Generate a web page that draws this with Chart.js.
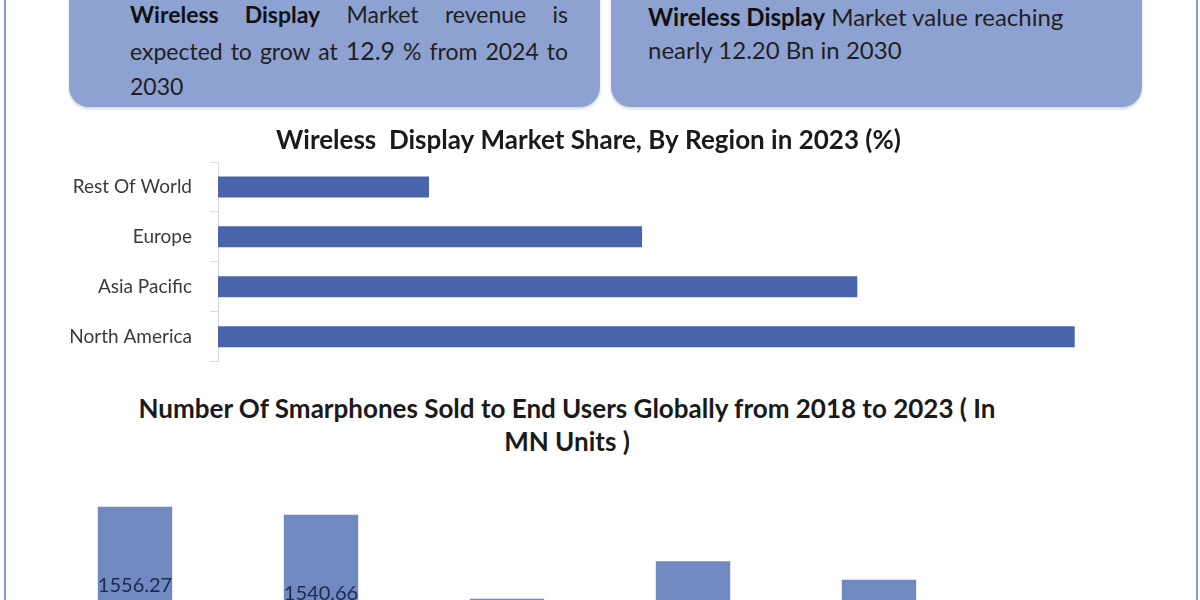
<!DOCTYPE html>
<html>
<head>
<meta charset="utf-8">
<script src="https://cdn.jsdelivr.net/npm/chart.js@4.4.1/dist/chart.umd.min.js"></script>
<style>
  html, body { margin: 0; padding: 0; width: 1200px; height: 600px; overflow: hidden; background: #fff; }
  body { position: relative; font-family: Lato, "Open Sans", sans-serif; color: #222; }
  .edge { position: absolute; top: 0; width: 2px; height: 600px; background: #8d9dc9; }
  .box { position: absolute; top: -40px; height: 147px; background: #8ea2d2; border-radius: 20px;
         box-shadow: 0 2px 3px rgba(90,100,130,0.25); }
  .txt { position: absolute; font-size: 24px; color: #1f1f1f; white-space: nowrap; }
  .txt b { color: #111; }
  .just { width: 438px; text-align: justify; text-align-last: justify; font-size: 23px; line-height: 36px; }
  .ttl { position: absolute; left: 67px; width: 1000px; text-align: center; font-size: 26px; font-weight: bold;
         line-height: 33px; color: #1a1a1a; }
  canvas { position: absolute; }
</style>
</head>
<body>
<div class="edge" style="left:4px"></div>
<div class="edge" style="left:1196px"></div>

<div class="box" style="left:69px; width:531px"></div>
<div class="box" style="left:611px; width:531px"></div>

<div class="txt just" style="left:130px; top:-4px"><b>Wireless Display</b> Market revenue is</div>
<div class="txt just" style="left:130px; top:32px">expected to grow at <span style="font-size:25px">12.9</span> % from 2024 to</div>
<div class="txt" style="left:130px; top:68px; font-size:23px; line-height:36px">2030</div>
<div class="txt" style="left:648px; top:0px; line-height:33px">
  <b>Wireless Display</b> Market value reaching<br>nearly 12.20 Bn in 2030
</div>

<canvas id="regionChart" width="1200" height="275" style="left:0; top:116px"></canvas>

<div class="ttl" style="top:392px">Number Of Smarphones Sold to End Users Globally from 2018 to 2023 ( In<br>MN Units )</div>
<canvas id="unitsChart" width="1116" height="868" style="left:42px; top:484px"></canvas>

<script>
const regionLabels = ['Rest Of World', 'Europe', 'Asia Pacific', 'North America'];
const regionShare = [9.9, 19.9, 30.0, 40.2];

const years = ['2018', '2019', '2020', '2021', '2022', '2023'];
const unitsSold = [1556.27, 1540.66, 1378.40, 1450.50, 1415.10, 1363.00];

Chart.defaults.font.family = 'Lato, "Open Sans", sans-serif';
Chart.defaults.animation = false;

new Chart(document.getElementById('regionChart'), {
  type: 'bar',
  data: {
    labels: regionLabels,
    datasets: [{ data: regionShare, backgroundColor: '#4a65ad', barPercentage: 0.42, categoryPercentage: 1 }]
  },
  options: {
    indexAxis: 'y',
    responsive: false,
    layout: { padding: { left: 0, right: 23, bottom: 8 } },
    plugins: {
      legend: { display: false },
      tooltip: { enabled: false },
      title: {
        display: true,
        text: 'Wireless  Display Market Share, By Region in 2023 (%)',
        color: '#1a1a1a',
        font: { size: 26, weight: 'bold', lineHeight: 1.0 },
        padding: { top: 12, bottom: 8 }
      }
    },
    scales: {
      x: { display: false, min: 0, max: 45 },
      y: {
        afterFit: s => { s.width = 218; },
        border: { display: true, color: '#d9d9d9' },
        grid: { offset: true, drawOnChartArea: false, tickLength: 8, color: '#d9d9d9' },
        ticks: { padding: 18, color: '#3a3a3a', font: { size: 19 } }
      }
    }
  }
});

// value labels drawn a fixed distance below each bar top
const barValueLabels = {
  id: 'barValueLabels',
  afterDatasetsDraw(chart) {
    const ctx = chart.ctx;
    const meta = chart.getDatasetMeta(0);
    ctx.save();
    ctx.font = '20px Lato, "Open Sans", sans-serif';
    ctx.fillStyle = '#1c2a4e';
    ctx.textAlign = 'center';
    ctx.textBaseline = 'middle';
    meta.data.forEach((bar, i) => {
      ctx.fillText(chart.data.datasets[0].data[i].toFixed(2), bar.x, bar.y + 79);
    });
    ctx.restore();
  }
};

new Chart(document.getElementById('unitsChart'), {
  type: 'bar',
  data: {
    labels: years,
    datasets: [{ data: unitsSold, backgroundColor: '#7189c0', barPercentage: 0.4, categoryPercentage: 1 }]
  },
  options: {
    responsive: false,
    layout: { padding: 0 },
    plugins: {
      legend: { display: false },
      tooltip: { enabled: false }
    },
    scales: {
      x: {
        afterFit: s => { s.height = 40; },
        grid: { display: false },
        border: { display: false },
        ticks: { color: '#333', font: { size: 18 } }
      },
      y: { display: false, min: 0, max: 1600 }
    }
  },
  plugins: [barValueLabels]
});
</script>
</body>
</html>
